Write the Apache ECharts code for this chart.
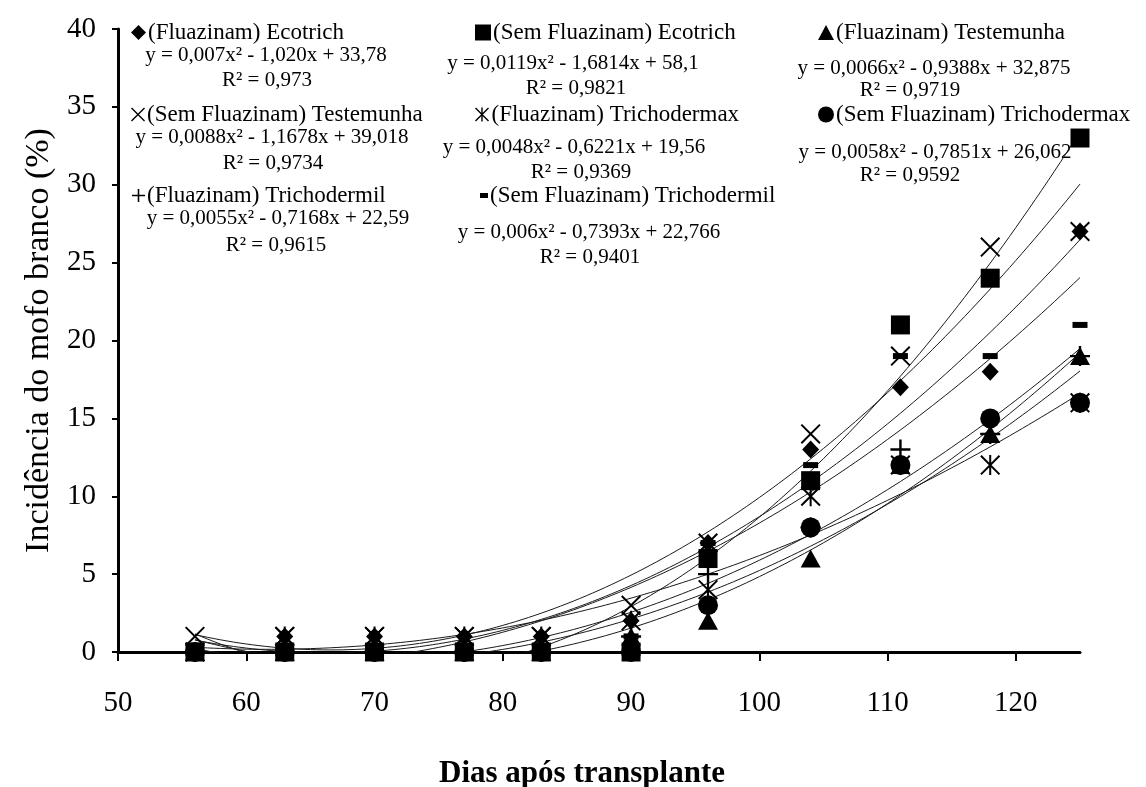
<!DOCTYPE html>
<html><head><meta charset="utf-8">
<script src="https://cdn.jsdelivr.net/npm/echarts@6/dist/echarts.min.js"></script>
<style>html,body{margin:0;padding:0;background:#fff}#c{width:1146px;height:787px}</style>
</head><body><div id="c"></div>
<script>
// ---- data ----
const days = [56, 63, 70, 77, 83, 90, 96, 104, 111, 118, 125];
const xTicks = [50, 60, 70, 80, 90, 100, 110, 120];
const names = [
  '(Fluazinam) Ecotrich', '(Sem Fluazinam) Ecotrich', '(Fluazinam) Testemunha',
  '(Sem Fluazinam) Testemunha', '(Fluazinam) Trichodermax', '(Sem Fluazinam) Trichodermax',
  '(Fluazinam) Trichodermil', '(Sem Fluazinam) Trichodermil'
];
const fluazinamEcotrich        = [0, 1, 1, 1, 1, 2, 7, 13, 17, 18, 27];
const semFluazinamEcotrich     = [0, 0, 0, 0, 0, 0, 6, 11, 21, 24, 33];
const fluazinamTestemunha      = [0, 0, 0, 0, 0, 1, 2, 6, 12, 14, 19];
const semFluazinamTestemunha   = [1, 1, 1, 1, 1, 3, 7, 14, 19, 26, 27];
const fluazinamTrichodermax    = [0, 1, 1, 1, 1, 2, 4, 10, 12, 12, 16];
const semFluazinamTrichodermax = [0, 0, 0, 0, 0, 0, 3, 8, 12, 15, 16];
const fluazinamTrichodermil    = [0, 0, 0, 0, 0, 1, 5, 8, 13, 14, 19];
const semFluazinamTrichodermil = [0, 0, 0, 0, 0, 1, 7, 12, 19, 19, 21];
const equations = [
  'y = 0,007x² - 1,020x + 33,78', 'y = 0,0119x² - 1,6814x + 58,1', 'y = 0,0066x² - 0,9388x + 32,875',
  'y = 0,0088x² - 1,1678x + 39,018', 'y = 0,0048x² - 0,6221x + 19,56', 'y = 0,0058x² - 0,7851x + 26,062',
  'y = 0,0055x² - 0,7168x + 22,59', 'y = 0,006x² - 0,7393x + 22,766'
];
const r2Labels = ['R² = 0,973', 'R² = 0,9821', 'R² = 0,9719', 'R² = 0,9734', 'R² = 0,9369', 'R² = 0,9592', 'R² = 0,9615', 'R² = 0,9401'];

const values = [fluazinamEcotrich, semFluazinamEcotrich, fluazinamTestemunha, semFluazinamTestemunha,
  fluazinamTrichodermax, semFluazinamTrichodermax, fluazinamTrichodermil, semFluazinamTrichodermil];

// ---- styles / layout ----
const FONT = '"Liberation Serif", "Times New Roman", serif';
const P_X = 'path://M0,7 L7,0 L100,93 L93,100 Z M7,100 L0,93 L93,0 L100,7 Z';
const P_AST = 'path://M0,7 L7,0 L100,93 L93,100 Z M7,100 L0,93 L93,0 L100,7 Z M45,0 L55,0 L55,100 L45,100 Z';
const P_PLUS = 'path://M44,0 L56,0 L56,100 L44,100 Z M0,44 L100,44 L100,56 L0,56 Z';
const symbols = [
  {s: 'diamond', size: [17, 18], leg: [15, 15]},
  {s: 'rect', size: 19, leg: [16, 16]},
  {s: 'triangle', size: [20, 18], leg: [16, 15]},
  {s: P_X, size: 20, leg: [14, 14]},
  {s: P_AST, size: 20, leg: [15, 14]},
  {s: 'circle', size: 20, leg: [16, 16]},
  {s: P_PLUS, size: 20, leg: [13, 13]},
  {s: 'rect', size: [15, 6], leg: [8, 5]}
];
const legPos = [[131, 21], [475, 21], [818, 21], [131, 103], [475, 103], [818, 103], [132, 184], [480, 184]];
const eqPos = [[266, 55], [573, 63], [934, 68], [272, 137], [574, 147], [935, 152], [278, 218], [589, 232]];
const r2Pos = [[267, 80], [576, 88], [910, 90], [273, 163], [581, 172], [910, 175], [276, 245], [590, 257]];

// quadratic least-squares fit (same as the chart's polynomial trendline)
function quadFit(xs, ys) {
  let n = xs.length, s1 = 0, s2 = 0, s3 = 0, s4 = 0, t0 = 0, t1 = 0, t2 = 0;
  for (let i = 0; i < n; i++) {
    const x = xs[i], y = ys[i];
    s1 += x; s2 += x * x; s3 += x * x * x; s4 += x * x * x * x;
    t0 += y; t1 += x * y; t2 += x * x * y;
  }
  const M = [[n, s1, s2], [s1, s2, s3], [s2, s3, s4]], B = [t0, t1, t2];
  const det = m => m[0][0] * (m[1][1] * m[2][2] - m[1][2] * m[2][1]) - m[0][1] * (m[1][0] * m[2][2] - m[1][2] * m[2][0]) + m[0][2] * (m[1][0] * m[2][1] - m[1][1] * m[2][0]);
  const D = det(M);
  const res = [0, 1, 2].map(k => det(M.map((row, r) => row.map((v, c) => c === k ? B[r] : v))) / D);
  return x => res[0] + res[1] * x + res[2] * x * x;
}

const series = [];
values.forEach((vals, i) => {
  const f = quadFit(days, vals);
  const pts = [];
  for (let x = days[0]; x <= days[days.length - 1] + 1e-9; x += 0.5) pts.push([x, f(x)]);
  series.push({
    name: 'trend' + i, type: 'line', data: pts, showSymbol: false, symbol: 'none', smooth: false,
    lineStyle: {color: '#1a1a1a', width: 1}, z: 1, clip: true, silent: true, animation: false
  });
});
values.forEach((vals, i) => {
  series.push({
    name: names[i], type: 'scatter', data: days.map((d, k) => [d, vals[k]]),
    symbol: symbols[i].s, symbolSize: symbols[i].size,
    itemStyle: {color: '#000', opacity: 1}, z: 3, clip: false, animation: false
  });
});

const legends = names.map((nm, i) => ({
  data: [{name: nm, icon: symbols[i].s}], left: legPos[i][0], top: legPos[i][1], padding: 0,
  itemWidth: symbols[i].leg[0], itemHeight: symbols[i].leg[1], selectedMode: false,
  textStyle: {fontFamily: FONT, fontSize: 23, color: '#000', padding: [0, 0, 0, -3]},
  itemStyle: {color: '#000'}
}));

const graphics = [];
equations.forEach((t, i) => {
  graphics.push({type: 'text', x: eqPos[i][0], y: eqPos[i][1], silent: true,
    style: {text: t, font: '21px ' + FONT, fill: '#000', align: 'center', verticalAlign: 'middle', textAlign: 'center', textVerticalAlign: 'middle'}});
  graphics.push({type: 'text', x: r2Pos[i][0], y: r2Pos[i][1], silent: true,
    style: {text: r2Labels[i], font: '21px ' + FONT, fill: '#000', align: 'center', verticalAlign: 'middle', textAlign: 'center', textVerticalAlign: 'middle'}});
});

const chart = echarts.init(document.getElementById('c'), null, {renderer: 'canvas'});
chart.setOption({
  animation: false,
  backgroundColor: '#fff',
  grid: {left: 118, right: 66, top: 29, bottom: 135, containLabel: false, outerBoundsMode: 'none'},
  xAxis: {
    type: 'value', min: 50, max: 125, interval: 10,
    name: 'Dias após transplante', nameLocation: 'middle', nameGap: 106,
    nameTextStyle: {fontFamily: FONT, fontSize: 31, fontWeight: 'bold', color: '#000', padding: [0, 34, 0, 0]},
    axisLine: {show: true, onZero: false, lineStyle: {color: '#000', width: 3}},
    axisTick: {show: true, inside: false, length: 9, lineStyle: {color: '#000', width: 2}, customValues: xTicks},
    axisLabel: {fontFamily: FONT, fontSize: 29, color: '#000', margin: 37, customValues: xTicks},
    splitLine: {show: false}
  },
  yAxis: {
    type: 'value', min: 0, max: 40, interval: 5,
    name: 'Incidência do mofo branco (%)', nameLocation: 'middle', nameGap: 60,
    nameTextStyle: {fontFamily: FONT, fontSize: 34, color: '#000'},
    axisLine: {show: true, lineStyle: {color: '#000', width: 3}},
    axisTick: {show: true, inside: false, length: 6, lineStyle: {color: '#000', width: 2}},
    axisLabel: {fontFamily: FONT, fontSize: 29, color: '#000', margin: 22},
    splitLine: {show: false}
  },
  legend: legends,
  graphic: graphics,
  series: series
});
</script></body></html>
